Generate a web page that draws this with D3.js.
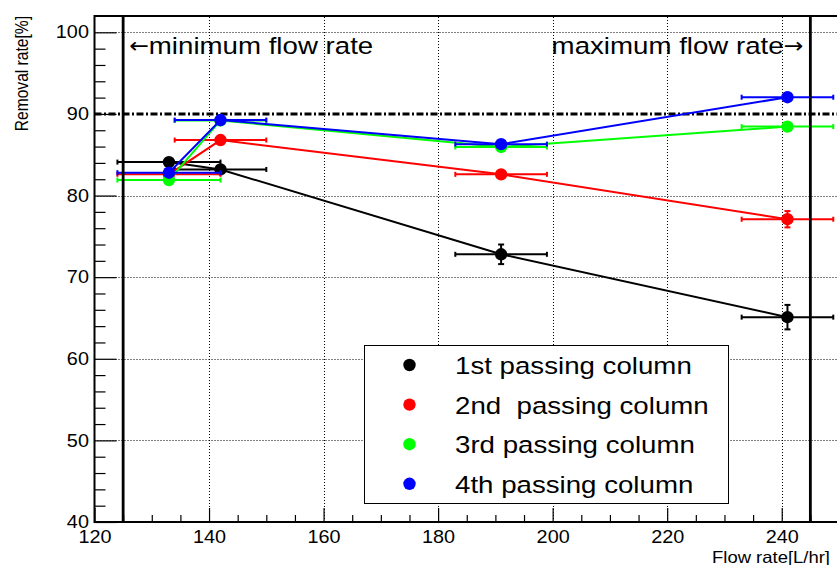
<!DOCTYPE html>
<html>
<head>
<meta charset="utf-8">
<script src="https://cdn.jsdelivr.net/npm/d3@7"></script>
<style>
  body { margin: 0; background: #fff; }
  svg { display: block; font-family: "Liberation Sans", Arial, Helvetica, sans-serif; }
  text { white-space: pre; }
  .arrow { font-family: "DejaVu Sans", sans-serif; }
</style>
</head>
<body>
<svg id="chart" width="837" height="565"></svg>
<script>
// Measured removal rates per passing column at each flow rate
const flowRates = [133, 142, 191, 241];
const flowErrors = [9, 8, 8, 8];

const col1 = [84.1, 83.2, 72.8, 65.1];
const col1Err = [0.5, 0.5, 1.2, 1.5];
const col2 = [82.6, 86.8, 82.6, 77.1];
const col2Err = [0.4, 0.4, 0.5, 1.0];
const col3 = [81.9, 89.2, 85.95, 88.45];
const col3Err = [0.3, 0.3, 0.3, 0.4];
const col4 = [82.8, 89.25, 86.3, 92.05];
const col4Err = [0.3, 0.3, 0.3, 0.4];

const seriesNames = ["1st passing column", "2nd  passing column", "3rd passing column", "4th passing column"];
const seriesColors = ["#000000", "#ff0000", "#00ff00", "#0000ff"];

const xTicks = [120, 140, 160, 180, 200, 220, 240];
const yTicks = [40, 50, 60, 70, 80, 90, 100];
const flowLimits = [125, 245];
const targetRate = 90;

const series = [
  { name: seriesNames[0], color: seriesColors[0], values: col1, errors: col1Err },
  { name: seriesNames[1], color: seriesColors[1], values: col2, errors: col2Err },
  { name: seriesNames[2], color: seriesColors[2], values: col3, errors: col3Err },
  { name: seriesNames[3], color: seriesColors[3], values: col4, errors: col4Err }
];

const SX = 1.12;          // horizontal stretch of the Helvetica-like lettering
const svg = d3.select("#chart");

const x = d3.scaleLinear().domain([120, 250]).range([94.5, 839]);
const y = d3.scaleLinear().domain([40, 102]).range([522, 16]);
const [X0, X1] = x.range();
const [Y0, Y1] = y.range();

function label(g, px, py, str, size, anchor, rotate) {
  return g.append("text")
    .attr("transform", `translate(${px},${py}) scale(${SX},1)` + (rotate ? ` rotate(${rotate})` : ""))
    .attr("font-size", size)
    .attr("text-anchor", anchor)
    .attr("fill", "#000")
    .text(str);
}

// white canvas
svg.append("rect").attr("width", 837).attr("height", 565).attr("fill", "#fff");

// dotted grid at the major ticks
const grid = svg.append("g").attr("stroke", "#000").attr("stroke-width", 1).attr("stroke-dasharray", "1,2");
grid.append("g").selectAll("line").data(xTicks.filter(d => d > 120)).join("line")
  .attr("x1", d => Math.round(x(d)) + 0.5).attr("x2", d => Math.round(x(d)) + 0.5)
  .attr("y1", Y0).attr("y2", Y1);
grid.append("g").selectAll("line").data(yTicks.filter(d => d > 40 && d !== targetRate)).join("line")
  .attr("x1", X0).attr("x2", X1)
  .attr("y1", d => Math.round(y(d)) + 0.5).attr("y2", d => Math.round(y(d)) + 0.5);

// axes: major ticks with labels, minor ticks without
const xMinor = d3.range(120, 250, 5).filter(d => d % 20 !== 0);
const yMinor = d3.range(40, 102, 2).filter(d => d % 10 !== 0);

const gx = svg.append("g").attr("transform", `translate(0,${Y0})`);
gx.call(d3.axisBottom(x).tickValues(xTicks).tickSize(-14).tickPadding(8).tickFormat(d3.format("d")));
gx.append("g").call(d3.axisBottom(x).tickValues(xMinor).tickSize(-7).tickFormat(""));
gx.selectAll(".domain").remove();
gx.selectAll("line").attr("stroke", "#000").attr("stroke-width", 1.2);
gx.selectAll("text").attr("font-size", 17.7).attr("font-family", null).attr("fill", "#000")
  .attr("transform", `scale(${SX},1)`);

const gy = svg.append("g").attr("transform", `translate(${X0},0)`);
gy.call(d3.axisLeft(y).tickValues(yTicks).tickSize(-22).tickPadding(5).tickFormat(d3.format("d")));
gy.append("g").call(d3.axisLeft(y).tickValues(yMinor).tickSize(-11).tickFormat(""));
gy.selectAll(".domain").remove();
gy.selectAll("line").attr("stroke", "#000").attr("stroke-width", 1.2);
gy.selectAll("text").attr("font-size", 17.7).attr("font-family", null).attr("fill", "#000")
  .attr("transform", `scale(${SX},1)`);

// dash-dot reference line at the target removal rate
svg.append("line")
  .attr("x1", X0).attr("x2", X1)
  .attr("y1", y(targetRate)).attr("y2", y(targetRate))
  .attr("stroke", "#000").attr("stroke-width", 3)
  .attr("stroke-dasharray", "7,2.5,2,2.5");

// series: connecting line, error bars, markers
const R = 6.2;
const line = d3.line().x(d => x(d.fx)).y(d => y(d.v));
series.forEach(s => {
  const pts = flowRates.map((fx, i) => ({ fx, v: s.values[i], ex: flowErrors[i], ey: s.errors[i] }));
  const g = svg.append("g");
  g.append("path").datum(pts).attr("d", line)
    .attr("fill", "none").attr("stroke", s.color).attr("stroke-width", 2);
  const eb = g.append("g").attr("stroke", s.color).attr("stroke-width", 2);
  pts.forEach(p => {
    const cx = x(p.fx), cy = y(p.v);
    const xl = x(p.fx - p.ex), xr = x(p.fx + p.ex);
    eb.append("line").attr("x1", xl).attr("x2", xr).attr("y1", cy).attr("y2", cy);
    eb.append("line").attr("x1", xl).attr("x2", xl).attr("y1", cy - 2.5).attr("y2", cy + 2.5);
    eb.append("line").attr("x1", xr).attr("x2", xr).attr("y1", cy - 2.5).attr("y2", cy + 2.5);
    const yt = y(p.v + p.ey), yb = y(p.v - p.ey);
    if (cy - yt > R) {
      eb.append("line").attr("x1", cx).attr("x2", cx).attr("y1", yt).attr("y2", yb);
      eb.append("line").attr("x1", cx - 3).attr("x2", cx + 3).attr("y1", yt).attr("y2", yt);
      eb.append("line").attr("x1", cx - 3).attr("x2", cx + 3).attr("y1", yb).attr("y2", yb);
    }
  });
  g.selectAll("circle").data(pts).join("circle")
    .attr("cx", d => x(d.fx)).attr("cy", d => y(d.v)).attr("r", R)
    .attr("fill", s.color);
});

// operating limits of the flow rate
svg.append("g").selectAll("line").data(flowLimits).join("line")
  .attr("x1", d => x(d)).attr("x2", d => x(d))
  .attr("y1", Y0).attr("y2", Y1)
  .attr("stroke", "#000").attr("stroke-width", 2.8);

// frame
svg.append("rect")
  .attr("x", X0).attr("y", Y1).attr("width", X1 - X0).attr("height", Y0 - Y1)
  .attr("fill", "none").attr("stroke", "#000").attr("stroke-width", 2);

// annotations next to the flow-rate limits
const notes = svg.append("g");
const minNote = label(notes, x(flowLimits[0]) + 6, 54, "", 24.7, "start");
minNote.append("tspan").attr("class", "arrow").attr("font-size", 21).attr("dy", -1).text("\u2190");
minNote.append("tspan").attr("dy", 1).text("minimum flow rate");
const maxNote = label(notes, x(flowLimits[1]) - 7, 54, "", 24.7, "end");
maxNote.append("tspan").text("maximum flow rate");
maxNote.append("tspan").attr("class", "arrow").attr("font-size", 21).attr("dy", -1).text("\u2192");

// axis titles
label(svg, 830, 562.5, "Flow rate[L/hr]", 16.5, "end");
label(svg, 28, 16, "Removal rate[%]", 15.6, "end", -90);

// legend
const lg = svg.append("g");
lg.append("rect").attr("x", 364.5).attr("y", 345.5).attr("width", 364).attr("height", 158)
  .attr("fill", "#fff").attr("stroke", "#000").attr("stroke-width", 1);
series.forEach((s, i) => {
  const cy = 365 + i * 39.6;
  lg.append("circle").attr("cx", 409.5).attr("cy", cy).attr("r", R).attr("fill", s.color);
  label(lg, 455, cy + 9, s.name, 24.7, "start");
});
</script>
</body>
</html>
